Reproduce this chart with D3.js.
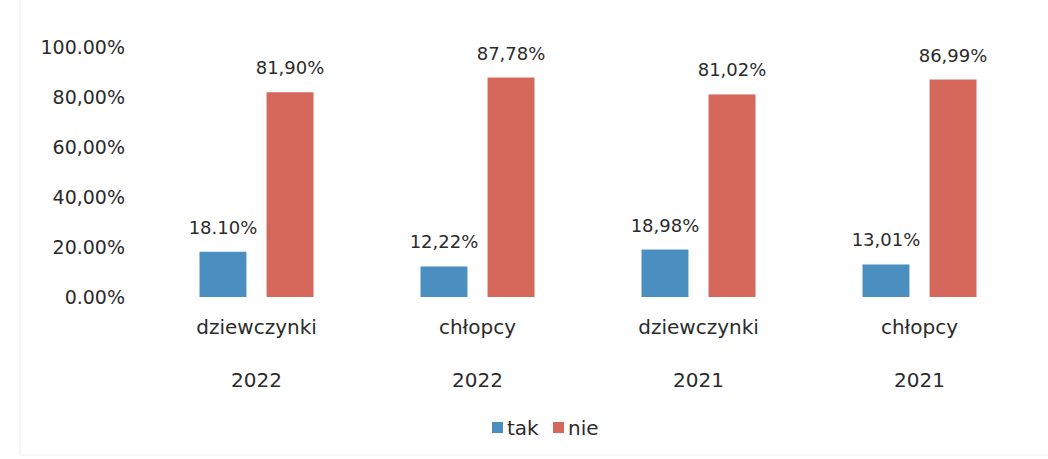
<!DOCTYPE html>
<html>
<head>
<meta charset="utf-8">
<script src="https://cdn.jsdelivr.net/npm/d3@7"></script>
<style>
  body { margin: 0; background: #fff; }
  text { font-family: "DejaVu Sans", "Liberation Sans", sans-serif; fill: #2b2b2b; }
</style>
</head>
<body>
<script>
const WIDTH = 1048;
const HEIGHT = 459;

const groups = ["dziewczynki", "chłopcy", "dziewczynki", "chłopcy"];
const years = ["2022", "2022", "2021", "2021"];
const series = ["tak", "nie"];
const takValues = [18.10, 12.22, 18.98, 13.01];
const nieValues = [81.90, 87.78, 81.02, 86.99];
const takLabels = ["18.10%", "12,22%", "18,98%", "13,01%"];
const nieLabels = ["81,90%", "87,78%", "81,02%", "86,99%"];
const tickValues = [0, 20, 40, 60, 80, 100];
const tickLabels = ["0.00%", "20.00%", "40,00%", "60,00%", "80,00%", "100.00%"];
const colors = ["#4b8fc0", "#d6675b"];

const rows = groups.map((g, i) => ({
  key: i, group: g, year: years[i],
  vals: [
    { s: "tak", v: takValues[i], label: takLabels[i] },
    { s: "nie", v: nieValues[i], label: nieLabels[i] }
  ]
}));

const svg = d3.select("body").append("svg")
  .attr("width", WIDTH)
  .attr("height", HEIGHT);

svg.append("rect")
  .attr("x", 20).attr("y", -2)
  .attr("width", WIDTH).attr("height", 457)
  .attr("fill", "none")
  .attr("stroke", "#eeeeee");

const x = d3.scaleBand().domain(rows.map(d => d.key)).range([146, 1030]);
const xInner = d3.scaleBand().domain(series).range([-57, 57]).paddingInner(0.3);
const y = d3.scaleLinear().domain([0, 100]).range([297, 47]);

const color = d3.scaleOrdinal().domain(series).range(colors);

// y axis labels
const yAxis = svg.append("g")
  .attr("transform", "translate(125,0)")
  .call(d3.axisLeft(y).tickValues(tickValues).tickSize(0).tickPadding(0)
    .tickFormat((d, i) => tickLabels[i]));
yAxis.select(".domain").remove();
yAxis.selectAll("text")
  .style("font-size", "19px")
  .style("font-family", "DejaVu Sans, sans-serif")
  .attr("fill", "#2b2b2b");

// bars
const g = svg.selectAll("g.grp")
  .data(rows).enter()
  .append("g")
  .attr("class", "grp")
  .attr("transform", d => `translate(${x(d.key) + x.bandwidth() / 2},0)`);

g.selectAll("rect")
  .data(d => d.vals).enter()
  .append("rect")
  .attr("x", d => xInner(d.s))
  .attr("y", d => y(d.v))
  .attr("width", xInner.bandwidth())
  .attr("height", d => y(0) - y(d.v))
  .attr("fill", d => color(d.s));

g.selectAll("text.val")
  .data(d => d.vals).enter()
  .append("text")
  .attr("class", "val")
  .attr("x", d => xInner(d.s) + xInner.bandwidth() / 2)
  .attr("y", d => y(d.v) - 18)
  .attr("text-anchor", "middle")
  .style("font-size", "18px")
  .text(d => d.label);

// category labels
g.append("text")
  .attr("y", 334)
  .attr("text-anchor", "middle")
  .style("font-size", "20px")
  .text(d => d.group);

g.append("text")
  .attr("y", 387)
  .attr("text-anchor", "middle")
  .style("font-size", "20px")
  .text(d => d.year);

// legend
const legend = svg.append("g").attr("transform", "translate(492,428)");
const items = legend.selectAll("g")
  .data(series).enter()
  .append("g")
  .attr("transform", (d, i) => `translate(${i * 61},0)`);
items.append("rect")
  .attr("x", 0).attr("y", -6)
  .attr("width", 11).attr("height", 11)
  .attr("fill", d => color(d));
items.append("text")
  .attr("x", 15).attr("y", 7)
  .style("font-size", "20px")
  .text(d => d);
</script>
</body>
</html>
